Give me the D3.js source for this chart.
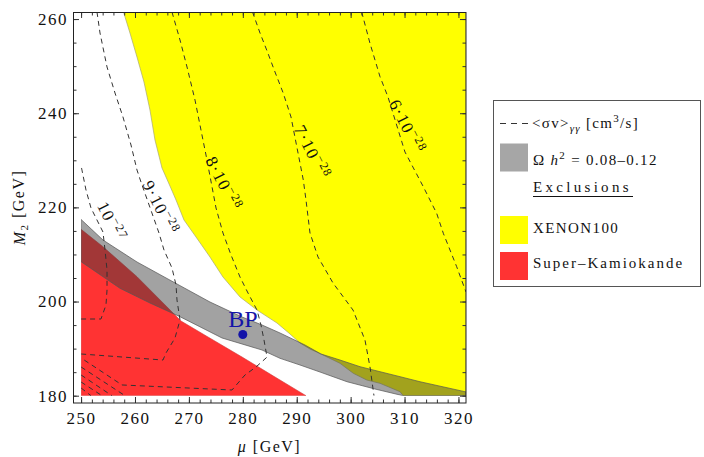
<!DOCTYPE html>
<html>
<head>
<meta charset="utf-8">
<script src="https://cdnjs.cloudflare.com/ajax/libs/d3/7.8.5/d3.min.js"></script>
<style>
	body { margin: 0; background: #fff; }
	svg text { font-family: 'Liberation Serif', 'Times New Roman', serif; fill: #111; }
</style>
</head>
<body>
<div id="chart"></div>
<script>
// tick labels
var muTicks = [250, 260, 270, 280, 290, 300, 310, 320];
var m2Ticks = [180, 200, 220, 240, 260];

// edge of the XENON100 exclusion (mu, M2), from the top of the frame down
var xenonEdge = [[257.87, 261.5], [259.07, 257.04], [260.37, 251.94], [261.67, 246.63],
	[262.78, 240.68], [263.71, 234.31], [265.01, 228.37], [266.49, 224.54], [267.61, 221.57],
	[269.09, 217.32], [271.32, 213.71], [273.91, 209.46], [276.32, 205.21], [279.48, 200.97],
	[282.63, 198.2], [286.34, 195.44], [288.75, 193.11], [290.61, 191.19], [292.46, 189.92],
	[294.5, 188.86], [298.03, 186.88], [300.49, 184.76], [302.98, 183.34], [305.45, 182.63],
	[309.16, 180.85], [309.77, 180]];

// Omega h^2 = 0.08-0.12 band
var relicUpper = [[250, 217.43], [254.06, 213.07], [260.37, 208.4], [267.79, 203.73],
	[273.91, 199.9], [279.85, 196.72], [283.56, 195.02], [286.9, 193.32], [291.53, 190.77],
	[294.5, 188.86], [298.03, 187.58], [301.74, 186.16], [305.45, 185.1], [309.16, 184.04],
	[312.87, 182.97], [321.4, 180.8]];
var relicLower = [[250, 208.46], [257.22, 202.81], [262.78, 199.69], [268.35, 196.78],
	[276.14, 192.26], [283.56, 189.71], [286.9, 187.94], [290.61, 186.52], [294.32, 185.03],
	[299.33, 182.97], [304.52, 181.42], [309.71, 180]];

// Super-Kamiokande exclusion edge
var superKEdge = [[250, 215.34], [254.06, 211.65], [260.37, 205.28], [268.53, 195.87],
	[273.54, 192.47], [279.85, 188.22], [285.97, 183.97], [291.72, 180]];

// <sigma v>_gammagamma contours
var sigma10e27 = [[250.08, 228.37], [250.91, 223.69], [251.84, 219.87], [254.06, 214.77],
	[254.44, 210.95], [254.81, 206.7], [254.81, 202.45], [254.62, 199.27], [253.69, 196.29],
	[250, 196.29]];
var sigma9e28 = [[252.95, 261.5], [253.51, 257.04], [254.81, 249.82], [256.29, 244.3],
	[257.77, 239.2], [259.26, 233.25], [260.37, 227.94], [261.11, 225.39], [264.45, 214.56],
	[265.38, 210.95], [266.86, 207.13], [267.61, 203.51], [267.79, 200.33], [268.35, 196.08],
	[267.42, 192.26], [265.75, 189.07], [265.19, 187.58], [250, 188.86]];
var sigma8e28 = [[266.86, 261.5], [268.35, 255.55], [269.65, 249.82], [271.13, 242.81],
	[272.61, 234.31], [273.17, 231.13], [275.03, 219.87], [276.32, 214.56], [277.81, 209.89],
	[279.48, 205.21], [280.96, 201.82], [282.63, 198.2], [283.37, 195.02], [283.93, 191.83],
	[284.49, 188.2], [282.45, 186.1], [280.4, 184.4], [277.99, 181.21], [257.59, 182.28],
	[250, 188.01]];
var sigma7e28 = [[281.8, 261.5], [283.19, 257.04], [284.43, 253.43], [285.97, 248.76],
	[287.51, 244.23], [288.94, 239.2], [291.22, 225.82], [291.72, 221.57], [292.46, 214.56],
	[293.95, 209.46], [296.73, 203.94], [300.44, 198.2], [302.66, 191.83], [303.59, 186.1],
	[304.33, 180]];
var sigma6e28 = [[302.05, 261.5], [303.59, 254.85], [305.45, 247.76], [306.93, 243.45],
	[310.08, 231.76], [313.48, 224.39], [315.96, 218.74], [317.19, 214.5], [319.67, 207.4],
	[321.4, 202.03]];
// lower branches showing in the bottom-left corner
var cornerBranches = [
	[[250, 186.1], [258.15, 180]],
	[[250, 184.4], [255.73, 180]],
	[[250, 182.91], [253.88, 180]],
	[[250, 181.64], [251.84, 180]]
];
var sigmaMantissa = ['10', '9\u00b710', '8\u00b710', '7\u00b710', '6\u00b710'];
var sigmaExponent = ['\u221227', '\u221228', '\u221228', '\u221228', '\u221228'];
var sigmaLabelAt = [[255.64, 217.0], [264.73, 219.98], [276.42, 225.07], [292.83, 231.76],
	[310.45, 237.18]];

var benchmark = [280, 193];

(function () {
	'use strict';

	var left = 73, top = 12, plotW = 393, plotH = 391;
	var labelAngle = 63;

	var x = d3.scaleLinear().domain([248.5, 321.4]).range([0, plotW]);
	var y = d3.scaleLinear().domain([178.45, 261.5]).range([plotH, 0]);

	var svg = d3.select('#chart')
		.append('svg')
		.attr('width', 704)
		.attr('height', 457);

	var g = svg.append('g')
		.attr('transform', 'translate(' + left + ',' + top + ')');

	g.append('clipPath')
		.attr('id', 'area')
		.append('rect')
		.attr('x', x(250))
		.attr('y', y(261.5))
		.attr('width', x(321.4) - x(250))
		.attr('height', y(180) - y(261.5));

	var line = d3.line()
		.x(function (d) { return x(d[0]); })
		.y(function (d) { return y(d[1]); });

	var regions = g.append('g').attr('clip-path', 'url(#area)');

	regions.append('path')
		.attr('d', line(xenonEdge.concat([[321.4, 180], [321.4, 261.5]])) + 'Z')
		.attr('fill', '#ffff00')
		.attr('stroke', '#a8a870')
		.attr('stroke-width', 0.7);

	regions.append('path')
		.attr('d', line(superKEdge.concat([[250, 180]])) + 'Z')
		.attr('fill', '#ff3333')
		.attr('stroke', '#d03838')
		.attr('stroke-width', 0.6);

	regions.append('path')
		.attr('d', line(relicUpper.concat([[321.4, 180]], relicLower.slice().reverse())) + 'Z')
		.attr('fill', '#3d3d3d')
		.attr('fill-opacity', 0.48)
		.attr('stroke', '#555')
		.attr('stroke-width', 0.7);

	// contours
	var contours = [sigma10e27, sigma9e28, sigma8e28, sigma7e28, sigma6e28]
		.concat(cornerBranches);
	g.append('g')
		.attr('clip-path', 'url(#area)')
		.selectAll('path')
		.data(contours)
		.enter()
		.append('path')
		.attr('d', function (d) { return line(d); })
		.attr('fill', 'none')
		.attr('stroke', '#333')
		.attr('stroke-width', 1)
		.attr('stroke-dasharray', '5,4');

	sigmaLabelAt.forEach(function (p, i) {
		var t = g.append('text')
			.attr('transform', 'translate(' + x(p[0]) + ',' + y(p[1]) +
				') rotate(' + labelAngle + ')')
			.attr('text-anchor', 'middle')
			.attr('dy', '0.35em')
			.style('font-size', '17px')
			.style('letter-spacing', '1.2px');
		t.append('tspan').text(sigmaMantissa[i]);
		t.append('tspan')
			.attr('dy', '-0.55em')
			.style('font-size', '12px')
			.text(sigmaExponent[i]);
	});

	// benchmark point
	g.append('circle')
		.attr('cx', x(benchmark[0]))
		.attr('cy', y(benchmark[1]))
		.attr('r', 4.5)
		.attr('fill', '#1414a8');
	g.append('text')
		.attr('x', x(benchmark[0]))
		.attr('y', y(benchmark[1]) - 7)
		.attr('text-anchor', 'middle')
		.style('font-size', '24px')
		.style('fill', '#1414a8')
		.text('BP');

	// frame and inward ticks
	function styleAxis(sel) {
		sel.select('.domain').remove();
		sel.selectAll('line').attr('stroke', '#333');
		sel.selectAll('text')
			.style('font-size', '17px')
			.style('letter-spacing', '1.5px')
			.attr('fill', '#111');
	}

	g.append('g')
		.attr('transform', 'translate(0,' + plotH + ')')
		.call(d3.axisBottom(x).tickValues(muTicks).tickSize(-6).tickPadding(9)
			.tickFormat(d3.format('d')))
		.call(styleAxis);
	g.append('g')
		.attr('transform', 'translate(0,' + plotH + ')')
		.call(d3.axisBottom(x).tickValues(d3.range(250, 322, 2)).tickSize(-3.5)
			.tickFormat(''))
		.call(styleAxis);
	g.append('g')
		.call(d3.axisTop(x).tickValues(muTicks).tickSize(-6).tickFormat(''))
		.call(styleAxis);
	g.append('g')
		.call(d3.axisTop(x).tickValues(d3.range(250, 322, 2)).tickSize(-3.5).tickFormat(''))
		.call(styleAxis);

	g.append('g')
		.call(d3.axisLeft(y).tickValues(m2Ticks).tickSize(-6).tickPadding(5)
			.tickFormat(d3.format('d')))
		.call(styleAxis);
	g.append('g')
		.call(d3.axisLeft(y).tickValues(d3.range(180, 262, 5)).tickSize(-3.5).tickFormat(''))
		.call(styleAxis);
	g.append('g')
		.attr('transform', 'translate(' + plotW + ',0)')
		.call(d3.axisRight(y).tickValues(m2Ticks).tickSize(-6).tickFormat(''))
		.call(styleAxis);
	g.append('g')
		.attr('transform', 'translate(' + plotW + ',0)')
		.call(d3.axisRight(y).tickValues(d3.range(180, 262, 5)).tickSize(-3.5).tickFormat(''))
		.call(styleAxis);

	g.append('rect')
		.attr('x', 0.5)
		.attr('y', 0.5)
		.attr('width', plotW - 0.5)
		.attr('height', plotH - 0.5)
		.attr('fill', 'none')
		.attr('stroke', '#222')
		.attr('stroke-width', 1);

	// axis titles
	var xt = svg.append('text')
		.attr('x', left + plotW / 2)
		.attr('y', 452)
		.attr('text-anchor', 'middle')
		.style('font-size', '16px')
		.style('letter-spacing', '1.5px');
	xt.append('tspan').style('font-style', 'italic').text('\u03bc');
	xt.append('tspan').text(' [GeV]');

	var yt = svg.append('text')
		.attr('transform', 'translate(25,' + (top + plotH / 2) + ') rotate(-90)')
		.attr('text-anchor', 'middle')
		.style('font-size', '16px')
		.style('letter-spacing', '1.5px');
	yt.append('tspan').style('font-style', 'italic').text('M');
	yt.append('tspan').attr('dy', '0.3em').style('font-size', '11px').text('2');
	yt.append('tspan').attr('dy', '-0.3em').text(' [GeV]');

	// legend
	var lg = svg.append('g');
	lg.append('rect')
		.attr('x', 493.5)
		.attr('y', 100.5)
		.attr('width', 207)
		.attr('height', 186)
		.attr('fill', '#fff')
		.attr('stroke', '#555');

	lg.append('line')
		.attr('x1', 500).attr('x2', 528)
		.attr('y1', 123.5).attr('y2', 123.5)
		.attr('stroke', '#333')
		.attr('stroke-dasharray', '6,5');
	var l1 = lg.append('text')
		.attr('x', 532).attr('y', 127.5)
		.style('font-size', '15px')
		.style('letter-spacing', '1.3px');
	l1.append('tspan').text('<\u03c3v>');
	l1.append('tspan').attr('dy', 4).style('font-size', '11px').style('font-style', 'italic')
		.text('\u03b3\u03b3');
	l1.append('tspan').attr('dy', -4).text(' [cm');
	l1.append('tspan').attr('dy', -6).style('font-size', '11px').text('3');
	l1.append('tspan').attr('dy', 6).text('/s]');

	lg.append('rect')
		.attr('x', 500).attr('y', 143.5).attr('width', 28).attr('height', 28)
		.attr('fill', '#a6a6a6');
	var l2 = lg.append('text')
		.attr('x', 533).attr('y', 165)
		.style('font-size', '15px')
		.style('letter-spacing', '1.3px');
	l2.append('tspan').text('\u03a9 ');
	l2.append('tspan').style('font-style', 'italic').text('h');
	l2.append('tspan').attr('dy', -6).style('font-size', '11px').text('2');
	l2.append('tspan').attr('dy', 6).text(' = 0.08\u20130.12');

	lg.append('text')
		.attr('x', 533).attr('y', 192)
		.style('font-size', '15px')
		.style('letter-spacing', '3.3px')
		.text('Exclusions');
	lg.append('line')
		.attr('x1', 533).attr('x2', 633)
		.attr('y1', 196.5).attr('y2', 196.5)
		.attr('stroke', '#111');

	lg.append('rect')
		.attr('x', 500).attr('y', 216).attr('width', 28).attr('height', 28)
		.attr('fill', '#ffff00');
	lg.append('text')
		.attr('x', 533).attr('y', 233)
		.style('font-size', '15px')
		.style('letter-spacing', '1.4px')
		.text('XENON100');

	lg.append('rect')
		.attr('x', 500).attr('y', 252).attr('width', 28).attr('height', 28)
		.attr('fill', '#ff3333');
	lg.append('text')
		.attr('x', 533).attr('y', 268)
		.style('font-size', '15px')
		.style('letter-spacing', '2px')
		.text('Super\u2013Kamiokande');
}());
</script>
</body>
</html>
